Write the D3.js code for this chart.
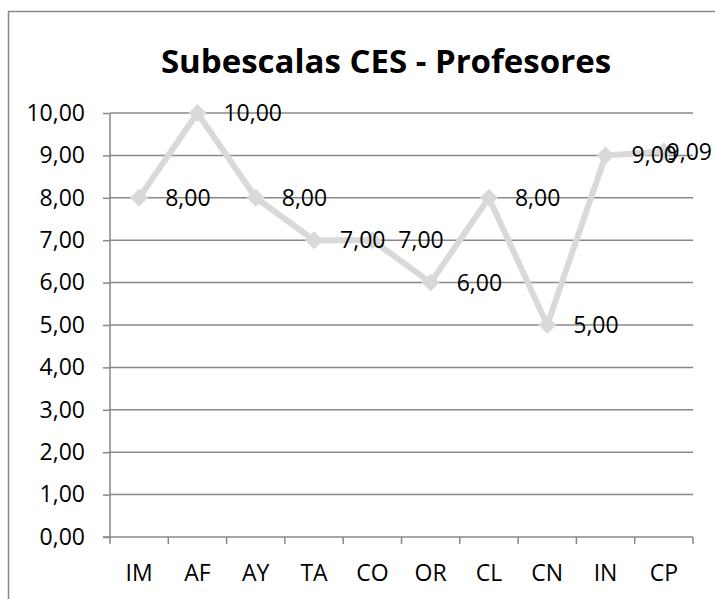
<!DOCTYPE html>
<html>
<head>
<meta charset="utf-8">
<script src="https://cdn.jsdelivr.net/npm/d3@7"></script>
<style>
  body { margin: 0; background: #fff; }
  text { font-family: "Open Sans", sans-serif; fill: #000; }
</style>
</head>
<body>
<svg id="chart" width="715" height="599"></svg>
<script>
// subscale codes and the teachers' scores
const categories = ["IM", "AF", "AY", "TA", "CO", "OR", "CL", "CN", "IN", "CP"];
const values = [8, 10, 8, 7, 7, 6, 8, 5, 9, 9.09];
const yTicks = [0, 1, 2, 3, 4, 5, 6, 7, 8, 9, 10];

const svg = d3.select("#chart");
const plotL = 110, plotR = 693, plotT = 113, plotB = 537;
const fmt = d => d3.format(".2f")(d).replace(".", ",");

// chart frame
svg.append("rect")
  .attr("x", 8.5).attr("y", 11.5)
  .attr("width", 720).attr("height", 600)
  .attr("fill", "none").attr("stroke", "#888").attr("stroke-width", 1.5);

svg.append("text")
  .attr("x", 386).attr("y", 73)
  .attr("text-anchor", "middle")
  .style("font-size", "33px").style("font-weight", "bold")
  .text("Subescalas CES - Profesores");

const x = d3.scaleBand().domain(categories).range([plotL, plotR]);
const y = d3.scaleLinear().domain([0, 10]).range([plotB, plotT]);

// gridlines
svg.append("g")
  .selectAll("line")
  .data(yTicks.slice(1))
  .join("line")
  .attr("x1", plotL).attr("x2", plotR)
  .attr("y1", d => y(d)).attr("y2", d => y(d))
  .attr("stroke", "#888").attr("stroke-width", 1.5);

const yAxis = svg.append("g")
  .attr("transform", `translate(${plotL},0)`)
  .call(d3.axisLeft(y).tickValues(yTicks).tickFormat(fmt).tickSize(7).tickPadding(18));
const xAxis = svg.append("g")
  .attr("transform", `translate(0,${plotB})`)
  .call(d3.axisBottom(x).tickSize(0).tickPadding(28));

// category boundary ticks, Excel style
xAxis.selectAll(".edge")
  .data(categories.concat([null]))
  .join("line")
  .attr("class", "edge")
  .attr("x1", (d, i) => plotL + i * x.step())
  .attr("x2", (d, i) => plotL + i * x.step())
  .attr("y1", 0).attr("y2", 7);

for (const ax of [yAxis, xAxis]) {
  ax.select(".domain").attr("stroke", "#888").attr("stroke-width", 1.5);
  ax.selectAll("line").attr("stroke", "#888").attr("stroke-width", 1.5);
  ax.selectAll("text").style("font-size", "23px").attr("fill", "#000");
}
yAxis.select(".domain").attr("d", `M-7,${plotB}H0V${plotT}`);
xAxis.select(".domain").attr("d", `M${plotL},0H${plotR}`);

const cx = d => x(d) + x.bandwidth() / 2;
const line = d3.line().x((d, i) => cx(categories[i])).y(d => y(d));

svg.append("path")
  .datum(values)
  .attr("d", line)
  .attr("fill", "none")
  .attr("stroke", "#d9d9d9")
  .attr("stroke-width", 6)
  .attr("stroke-linejoin", "round");

svg.append("g")
  .selectAll("path")
  .data(values)
  .join("path")
  .attr("d", "M0,-9L9,0L0,9L-9,0Z")
  .attr("transform", (d, i) => `translate(${cx(categories[i])},${y(d)})`)
  .attr("fill", "#d9d9d9");

// labels sit right of the point, pulled back in if they would run off the frame
svg.append("g")
  .selectAll("text")
  .data(values)
  .join("text")
  .attr("y", d => y(d))
  .attr("dy", "0.35em")
  .style("font-size", "23px")
  .text(fmt)
  .attr("x", function (d, i) {
    const w = this.getComputedTextLength();
    return Math.min(cx(categories[i]) + 26, 712 - w);
  });
</script>
</body>
</html>
